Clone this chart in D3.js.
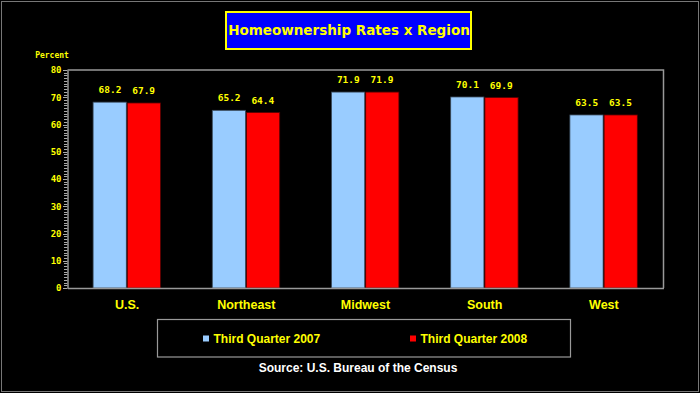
<!DOCTYPE html>
<html><head><meta charset="utf-8">
<script src="https://cdn.jsdelivr.net/npm/d3@7"></script>
<style>html,body{margin:0;padding:0;background:#000;}svg{display:block;}</style>
</head><body>
<script>
const categories = ["U.S.", "Northeast", "Midwest", "South", "West"];
const seriesNames = ["Third Quarter 2007", "Third Quarter 2008"];
const q3_2007 = [68.2, 65.2, 71.9, 70.1, 63.5];
const q3_2008 = [67.9, 64.4, 71.9, 69.9, 63.5];
const yTicks = [0, 10, 20, 30, 40, 50, 60, 70, 80];
const title = "Homeownership Rates x Region";
const yLabel = "Percent";
const source = "Source: U.S. Bureau of the Census";

const W = 700, H = 393;
const colors = ["#99ccff", "#ff0000"];
const yellow = "#ffff00";
const svg = d3.select("body").append("svg").attr("width", W).attr("height", H);
svg.append("rect").attr("width", W).attr("height", H).attr("fill", "#000");
svg.append("rect").attr("x", 1.5).attr("y", 1.5).attr("width", W - 3).attr("height", H - 3)
  .attr("fill", "none").attr("stroke", "#777").attr("stroke-width", 1);

const m = {left: 67.5, right: 663.5, top: 70, bottom: 288};
const x0 = d3.scaleBand().domain(categories).range([m.left, m.right]).paddingInner(0).paddingOuter(0);
const x1 = d3.scaleBand().domain([0, 1]).range([25.6, 25.6 + 67.4]).padding(0);
const y = d3.scaleLinear().domain([0, 80]).range([m.bottom, m.top]);

// plot frame (top & right)
svg.append("path").attr("d", `M${m.left},${m.top}H${m.right}V${m.bottom}`)
  .attr("fill", "none").attr("stroke", "#999").attr("stroke-width", 1.5);

// minor ticks
const minor = d3.range(0, 81, 1);
svg.append("g").selectAll("line").data(minor).join("line")
  .attr("x1", d => d % 10 === 0 ? m.left - 4.5 : m.left - 3.5).attr("x2", m.left)
  .attr("y1", d => Math.round(y(d)) + 0.5).attr("y2", d => Math.round(y(d)) + 0.5)
  .attr("stroke", "#aaa").attr("stroke-width", 1);

// y axis
const yAxis = d3.axisLeft(y).tickValues(yTicks).tickSize(0).tickPadding(6);
const gy = svg.append("g").attr("transform", `translate(${m.left},0)`).call(yAxis);
gy.select(".domain").attr("stroke", "#999").attr("stroke-width", 1.5);
gy.selectAll("text").attr("fill", yellow).attr("font-family", "'DejaVu Sans Mono', monospace")
  .attr("font-weight", "bold").attr("font-size", 9);

// bars
const data = categories.map((c, i) => ({c, vals: [q3_2007[i], q3_2008[i]]}));
const groups = svg.append("g").selectAll("g").data(data).join("g")
  .attr("transform", d => `translate(${x0(d.c)},0)`);
groups.selectAll("rect").data(d => d.vals.map((v, k) => ({v, k}))).join("rect")
  .attr("x", d => x1(d.k) + (d.k === 1 ? 0.5 : 0)).attr("width", x1.bandwidth() - 0.5)
  .attr("y", d => y(d.v)).attr("height", d => y(0) - y(d.v))
  .attr("fill", d => colors[d.k])
  .attr("stroke", d => d.k === 0 ? "#3a4a5a" : "#550000").attr("stroke-width", 0.8);
groups.selectAll("text").data(d => d.vals.map((v, k) => ({v, k}))).join("text")
  .attr("x", d => x1(d.k) + x1.bandwidth() / 2).attr("y", d => y(d.v) - 9)
  .attr("text-anchor", "middle").attr("fill", yellow)
  .attr("font-family", "'DejaVu Sans Mono', monospace").attr("font-weight", "bold").attr("font-size", 9.5)
  .text(d => d.v.toFixed(1));

// bottom axis
const xAxis = d3.axisBottom(x0).tickSize(0).tickPadding(12);
const gx = svg.append("g").attr("transform", `translate(0,${m.bottom})`).call(xAxis);
gx.select(".domain").attr("stroke", "#999").attr("stroke-width", 1.5);
gx.selectAll("text").attr("fill", yellow).attr("font-family", "'Liberation Sans', Arial, sans-serif")
  .attr("font-weight", "bold").attr("font-size", 12.5);

// Percent label
svg.append("text").attr("x", 52).attr("y", 58).attr("text-anchor", "middle")
  .attr("fill", yellow).attr("font-family", "'DejaVu Sans Mono', monospace")
  .attr("font-weight", "bold").attr("font-size", 8).text(yLabel);

// title
svg.append("rect").attr("x", 226).attr("y", 12).attr("width", 245).attr("height", 37)
  .attr("fill", "#0000ff").attr("stroke", yellow).attr("stroke-width", 2);
svg.append("text").attr("x", 349).attr("y", 35).attr("text-anchor", "middle")
  .attr("fill", yellow).attr("font-family", "Verdana, 'DejaVu Sans', sans-serif")
  .attr("font-weight", "bold").attr("font-size", 13.5).text(title);

// legend
svg.append("rect").attr("x", 157.5).attr("y", 319.5).attr("width", 413).attr("height", 37.5)
  .attr("fill", "none").attr("stroke", "#999").attr("stroke-width", 1.2);
const legX = [203, 410];
seriesNames.forEach((n, k) => {
  svg.append("rect").attr("x", legX[k]).attr("y", 335.5).attr("width", 6).attr("height", 6)
    .attr("fill", colors[k]);
  svg.append("text").attr("x", legX[k] + 10.5).attr("y", 343).attr("fill", yellow)
    .attr("font-family", "'Liberation Sans', Arial, sans-serif").attr("font-weight", "bold")
    .attr("font-size", 12).text(n);
});

// source
svg.append("text").attr("x", 358).attr("y", 372).attr("text-anchor", "middle")
  .attr("fill", "#ffffff").attr("font-family", "'Liberation Sans', Arial, sans-serif")
  .attr("font-weight", "bold").attr("font-size", 12).text(source);
</script>
</body></html>
